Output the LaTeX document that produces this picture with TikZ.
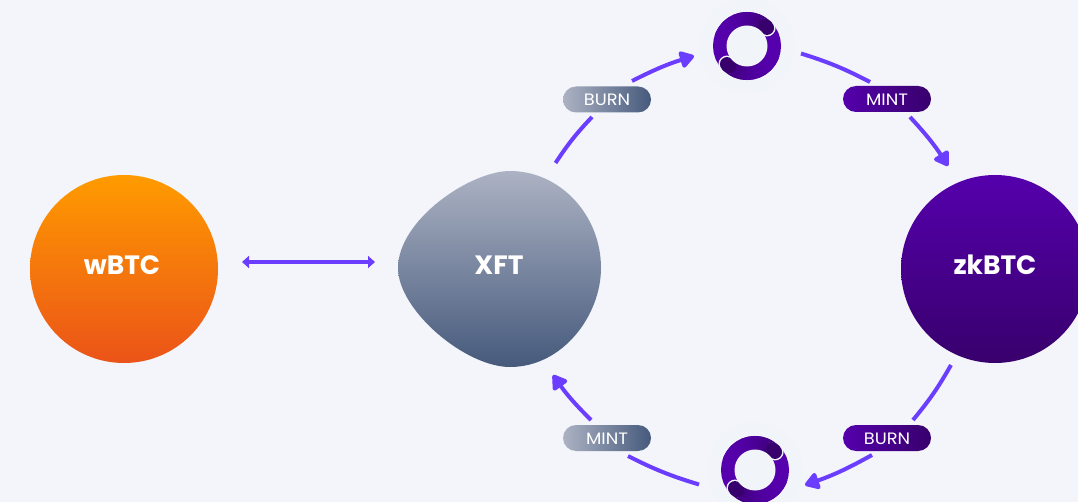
\documentclass[tikz,border=0pt]{standalone}
\usepackage{fontspec}
\setmainfont{Poppins}
\newfontface\boldlabel{Poppins Bold}
\newfontface\pillfont[FakeStretch=1.08]{Poppins}
\usetikzlibrary{arrows.meta}
\definecolor{bgc}{HTML}{F3F5FA}
\definecolor{haloc}{HTML}{F1F5FA}
\definecolor{arrowc}{HTML}{6B3DFF}
\definecolor{purpleA}{HTML}{5500AC}
\definecolor{purpleB}{HTML}{38006C}
\definecolor{greyA}{HTML}{ACB2C3}
\definecolor{greyB}{HTML}{465A7C}
\definecolor{orangeA}{HTML}{FF9B00}
\definecolor{orangeB}{HTML}{EB5318}
\newcommand{\spinnerat}[1]{%
  \begin{scope}[shift={(#1.center)}]
    \draw[purpleA,line width=14pt] (0,0) circle[radius=27];
    \foreach \capang in {-42,138}{
      \pgfmathsetmacro{\capback}{\capang-6}
      \draw[haloc,line width=17pt,line cap=round] (\capback:27) -- (\capang:27);
      \foreach \i in {24,...,1}{
        \pgfmathsetmacro{\angA}{\capang-5*\i-1}
        \pgfmathsetmacro{\angB}{\capang-5*\i+5}
        \pgfmathtruncatemacro{\mixv}{100-(24-\i)*(24-\i)/5.76}
        \draw[purpleA!\mixv!purpleB,line width=14pt] (\angA:27) -- (\angB:27);
      }
      \draw[purpleB,line width=14pt,line cap=round] (\capback:27) -- (\capang:27);
    }
    \fill[haloc] (0,0) circle[radius=20.5];
  \end{scope}}
\tikzset{
  x=1pt,y=-1pt,
  bigcircle/.style={circle,minimum size=188pt,inner sep=0pt},
  biglabel/.style={text=white,font=\boldlabel\fontsize{26.5}{28}\selectfont},
  pillbase/.style={minimum width=88pt,minimum height=26pt,inner sep=0pt,rounded corners=13pt,text=white,text height=13pt,text depth=0pt,font=\pillfont\fontsize{16.5}{18}\selectfont,shading=axis,shading angle=90},
  pillgrey/.style={pillbase,left color=greyA,right color=greyB},
  pillpurple/.style={pillbase,left color=purpleA,right color=purpleB},
  link/.style={draw=arrowc,line width=4pt},
  headlink/.style={link,-{Triangle[length=16pt,width=19pt,round]}},
  swap/.style={draw=arrowc,line width=3.6pt,{Triangle[length=7pt,width=12pt]}-{Triangle[length=7pt,width=12pt]}},
  ringnode/.style={circle,minimum size=96pt,inner sep=0pt,fill=haloc},
}
\begin{document}
\begin{tikzpicture}
\useasboundingbox (0,0) rectangle (1078,502);
\clip (0,0) rectangle (1078,502);
\fill[bgc] (0,0) rectangle (1078,502);

% main bodies
\node[bigcircle,top color=orangeA,bottom color=orangeB] (wbtc) at (124,269) {};
\node[biglabel] (wbtclabel) at (122,265) {wBTC};
\node[bigcircle,top color=purpleA,bottom color=purpleB] (zkbtc) at (995,269) {};
\node[biglabel] (zklabel) at (995,265) {zkBTC};
\shade[top color=greyA,bottom color=greyB]
  (510,171) .. controls (470,171) and (398,220) .. (398,268)
  .. controls (398,310) and (465,367) .. (510,367)
  .. controls (563,367) and (601,315) .. (601,268)
  .. controls (601,215) and (560,171) .. (510,171) -- cycle;
\node[biglabel] (xft) at (499,265) {XFT};

% spinners
\node[ringnode] (ringT) at (747,46) {};
\spinnerat{ringT}
\node[ringnode] (ringB) at (755,470) {};
\spinnerat{ringB}

% pills
\node[pillgrey] (burnT) at (607,99.5) {BURN};
\node[pillpurple] (mintT) at (887,99) {MINT};
\node[pillgrey] (mintB) at (607,438) {MINT};
\node[pillpurple] (burnB) at (887,438) {BURN};

% connector end points
\coordinate (a0) at (555.5,163);
\coordinate (a1) at (592,117);
\coordinate (a2) at (632,81);
\coordinate (a3) at (694,56);
\coordinate (b0) at (801,53.5);
\coordinate (b1) at (870,82);
\coordinate (b2) at (910,117);
\coordinate (b3) at (948,166);
\coordinate (c0) at (951,365);
\coordinate (c1) at (913,420);
\coordinate (c2) at (872,455);
\coordinate (c3) at (805,485);
\coordinate (d0) at (699,484.5);
\coordinate (d1) at (628,456);
\coordinate (d2) at (591,420);
\coordinate (d3) at (553,375);
\coordinate (s0) at (242,262);
\coordinate (s1) at (375,262);

\draw[swap] (s0) -- (s1);
\draw[link] (a0) to[bend left=5] (a1);
\draw[headlink] (a2) to[bend left=5] (a3);
\draw[link] (b0) to[bend left=5] (b1);
\draw[headlink] (b2) to[bend left=5] (b3);
\draw[link] (c0) to[bend left=5] (c1);
\draw[headlink] (c2) to[bend left=5] (c3);
\draw[link] (d0) to[bend left=5] (d1);
\draw[headlink] (d2) to[bend left=5] (d3);
\end{tikzpicture}
\end{document}
